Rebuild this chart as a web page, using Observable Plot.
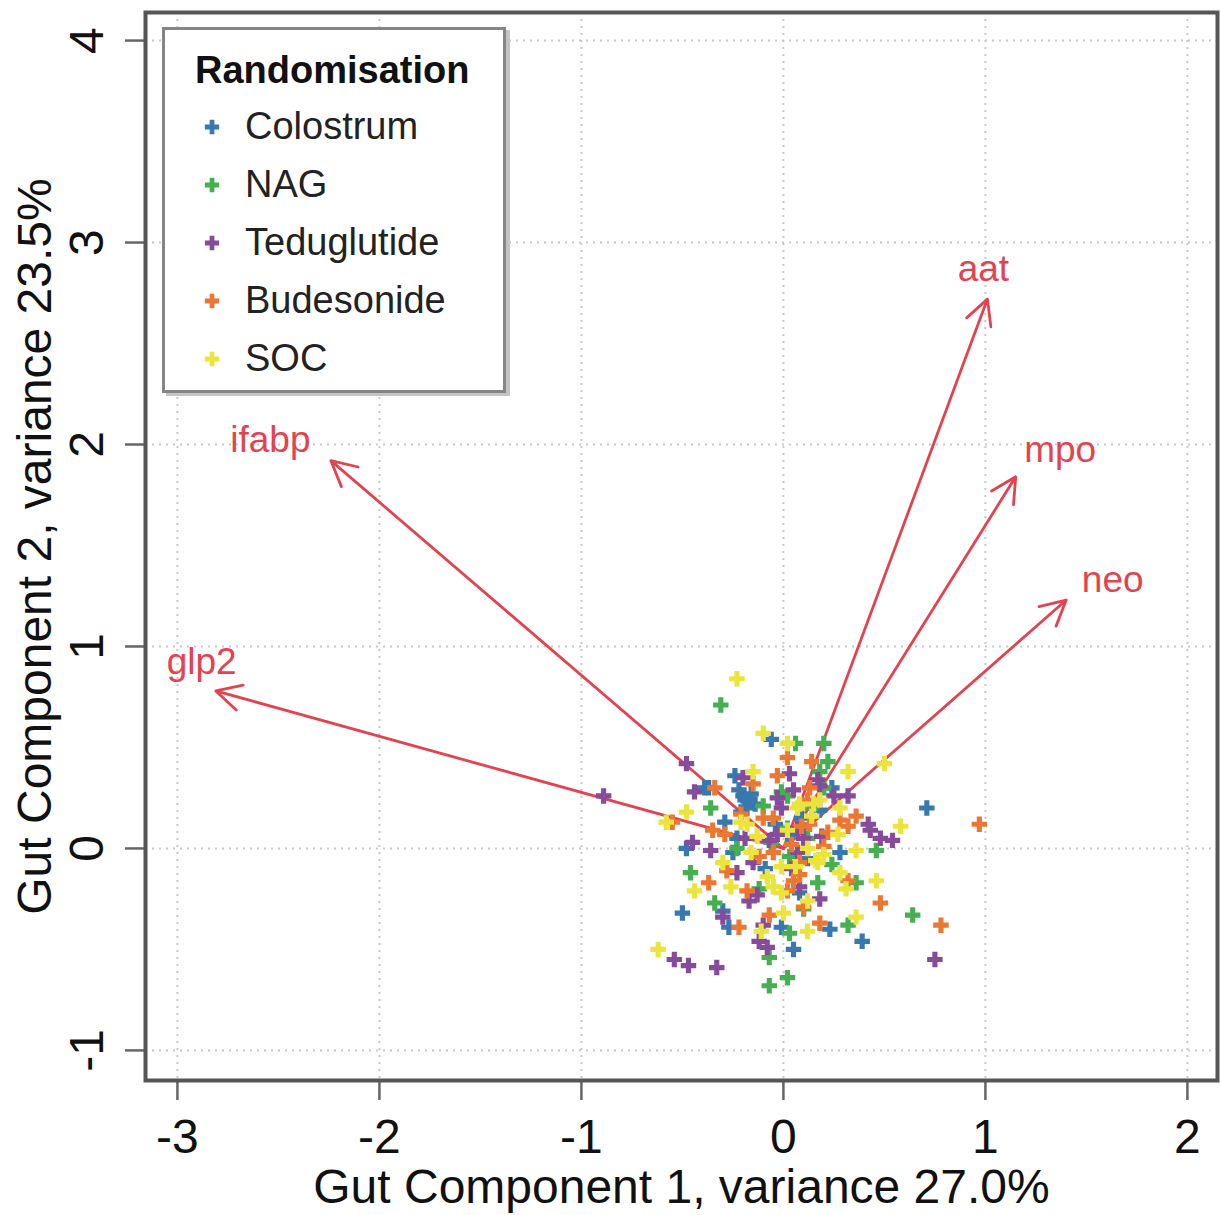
<!DOCTYPE html>
<html>
<head>
<meta charset="utf-8">
<script src="https://cdn.jsdelivr.net/npm/d3@7"></script>
<script src="https://cdn.jsdelivr.net/npm/@observablehq/plot@0.6"></script>
<style>
  body { margin: 0; background: #fff; }
  #wrap { position: relative; width: 1221px; height: 1215px; font-family: "Liberation Sans", Arial, Helvetica, sans-serif; }
  #legend { position: absolute; left: 162px; top: 27px; width: 344px; height: 366px; box-sizing: border-box;
            border: 3px solid #858585; box-shadow: 4px 3px 0 #c4c4c4; background: #fff; }
  #legend .t { position: absolute; left: 30px; top: 17px; font-size: 38px; font-weight: bold; line-height: 46px; color: #111; white-space: nowrap; }
  #legend .row { position: absolute; left: 0; height: 46px; line-height: 46px; font-size: 38px; color: #222; white-space: nowrap; }
  #legend .row svg { position: absolute; left: 38px; top: 15px; }
  #legend .row span { position: absolute; left: 80px; }
</style>
</head>
<body>
<div id="wrap"></div>
<script>
// ---- data ----
const groups = ["Colostrum", "NAG", "Teduglutide", "Budesonide", "SOC"];
const groupColors = ["#3778AF", "#46AF50", "#874B9B", "#EB7832", "#EBE43C"];

const colostrum = [[0.71,0.20],[0.39,-0.46],[-0.50,-0.32],[0.05,-0.50],[-0.37,0.30],[-0.06,0.54],[-0.24,0.36],[-0.20,0.26],[-0.19,0.24],[-0.21,0.18],[-0.18,0.20],[0.18,0.19],[-0.29,0.13],[0.24,0.30],[-0.48,0.00],[-0.23,0.05],[0.28,-0.02],[-0.30,-0.31],[-0.27,-0.39],[-0.01,-0.39],[0.23,-0.40],[-0.22,0.29],[0.09,0.15],[-0.25,-0.02],[0.08,-0.22],[-0.14,0.22],[0.02,0.07],[-0.09,-0.10],[-0.39,0.30],[-0.16,0.27],[0.12,-0.05],[-0.04,0.12]];
const nag = [[-0.31,0.71],[0.64,-0.33],[0.32,-0.38],[-0.07,-0.68],[0.02,-0.64],[-0.07,-0.54],[0.06,0.52],[0.20,0.52],[0.22,0.43],[0.18,0.38],[-0.01,0.28],[0.20,0.30],[-0.36,0.20],[-0.10,0.21],[0.46,-0.01],[0.36,-0.17],[0.17,-0.17],[-0.46,-0.12],[-0.34,-0.27],[0.03,-0.42],[0.03,-0.04],[0.02,0.26],[0.12,0.05],[-0.23,0.00],[0.02,0.10],[-0.12,-0.20],[0.10,-0.30],[0.14,0.20],[-0.06,0.03],[0.24,-0.08]];
const teduglutide = [[-0.89,0.26],[0.75,-0.55],[-0.54,-0.55],[-0.47,-0.58],[-0.33,-0.59],[-0.48,0.42],[-0.44,0.28],[-0.20,0.35],[0.03,0.37],[-0.03,0.25],[0.05,0.29],[0.18,0.31],[0.25,0.26],[-0.01,0.20],[0.17,0.34],[0.32,0.26],[0.42,0.12],[0.43,0.09],[0.48,0.05],[0.54,0.04],[0.18,-0.25],[-0.45,0.03],[-0.36,-0.01],[-0.23,-0.12],[-0.15,-0.07],[-0.17,-0.26],[-0.30,-0.34],[-0.10,-0.38],[-0.08,-0.49],[0.08,-0.19],[-0.03,0.07],[0.07,0.10],[0.07,-0.02],[-0.13,-0.23],[0.19,0.06],[0.10,0.05],[-0.12,-0.46],[-0.07,0.04],[0.04,-0.10],[-0.19,0.05]];
const budesonide = [[0.97,0.12],[0.78,-0.38],[0.48,-0.27],[-0.55,0.13],[-0.34,0.30],[0.02,0.45],[0.14,0.43],[-0.03,0.36],[0.13,0.30],[0.12,0.24],[0.36,0.16],[0.20,0.01],[0.32,-0.16],[0.18,-0.37],[-0.35,0.09],[-0.28,-0.11],[-0.05,-0.02],[-0.37,-0.17],[-0.18,-0.21],[-0.22,-0.39],[-0.07,-0.33],[0.05,-0.16],[0.10,-0.29],[0.08,-0.07],[0.13,0.12],[-0.29,0.07],[-0.15,0.32],[-0.10,0.15],[-0.05,0.15],[0.28,0.14],[0.32,0.11],[0.09,0.11],[0.08,-0.13],[0.02,-0.21],[-0.21,0.17],[0.04,0.02],[0.22,0.08],[-0.12,-0.04]];
const soc = [[-0.23,0.84],[0.50,0.42],[0.58,0.11],[0.46,-0.16],[0.36,-0.34],[-0.62,-0.50],[-0.58,0.13],[-0.48,0.18],[-0.10,0.57],[0.02,0.52],[-0.15,0.38],[0.18,0.24],[0.07,0.20],[0.32,0.38],[0.15,0.22],[0.28,0.20],[0.36,-0.01],[0.28,-0.12],[0.31,-0.20],[0.12,-0.41],[0.12,-0.26],[-0.30,-0.07],[-0.16,-0.02],[-0.08,-0.14],[-0.44,-0.21],[-0.26,-0.19],[-0.11,-0.41],[0.00,-0.32],[-0.01,-0.09],[-0.01,-0.22],[0.17,-0.07],[-0.18,0.12],[0.02,0.09],[0.12,0.00],[0.16,-0.06],[0.27,0.07],[-0.05,-0.19],[-0.21,0.13],[0.08,0.22],[0.20,-0.03],[0.06,-0.09],[-0.13,0.06],[0.14,0.16]];

const loadingNames = ["glp2", "ifabp", "aat", "mpo", "neo"];
const loadingX = [-2.81, -2.24, 1.01, 1.15, 1.40];
const loadingY = [0.78, 1.92, 2.72, 1.84, 1.23];
const labelX = [-2.88, -2.54, 0.99, 1.37, 1.63];
const labelY = [0.92, 2.02, 2.87, 1.97, 1.33];

const xTicks = [-3, -2, -1, 0, 1, 2];
const yTicks = [-1, 0, 1, 2, 3, 4];
const xTitle = "Gut Component 1, variance 27.0%";
const yTitle = "Gut Component 2, variance 23.5%";
const legendTitle = "Randomisation";

// ---- tables ----
const seriesValues = [colostrum, nag, teduglutide, budesonide, soc];
const points = groups.flatMap((g, i) => seriesValues[i].map(([x, y]) => ({x, y, group: g})));
const loadings = loadingNames.map((n, i) => ({name: n, x: loadingX[i], y: loadingY[i], lx: labelX[i], ly: labelY[i]}));

const FONT = '"Liberation Sans", Arial, Helvetica, sans-serif';
const RED = "#E3434F";

const chart = Plot.plot({
  width: 1221,
  height: 1215,
  marginLeft: 145,
  marginRight: 4,
  marginTop: 12,
  marginBottom: 135,
  style: {fontFamily: FONT, background: "#fff", overflow: "visible"},
  x: {domain: [-3.158, 2.149]},
  y: {domain: [-1.149, 4.139]},
  color: {domain: groups, range: groupColors},
  marks: [
    Plot.gridX(xTicks, {stroke: "#c8c8c8", strokeOpacity: 1, strokeWidth: 2, strokeDasharray: "2,5"}),
    Plot.gridY(yTicks, {stroke: "#c8c8c8", strokeOpacity: 1, strokeWidth: 2, strokeDasharray: "2,5"}),
    Plot.axisX({ticks: xTicks, tickSize: 20, tickPadding: 18, fontSize: 48, tickFormat: d => String(d),
                stroke: "#666", strokeWidth: 2.5, fill: "#111", label: null}),
    Plot.axisY({ticks: yTicks, tickSize: 20, tickFormat: () => "", stroke: "#666", strokeWidth: 2.5, label: null}),
    Plot.text(yTicks, {y: d => d, text: d => String(d), frameAnchor: "left", dx: -58, rotate: -90,
                       fontSize: 48, fill: "#111", textAnchor: "middle", lineAnchor: "middle"}),
    Plot.text([xTitle], {text: d => d, frameAnchor: "bottom", dy: 107, fontSize: 48, fill: "#111",
                         textAnchor: "middle", lineAnchor: "middle"}),
    Plot.text([yTitle], {text: d => d, frameAnchor: "left", dx: -110, rotate: -90, fontSize: 48, fill: "#111",
                         textAnchor: "middle", lineAnchor: "middle"}),
    Plot.arrow(loadings, {x1: () => 0, y1: () => 0, x2: "x", y2: "y", stroke: RED, strokeWidth: 2.8,
                          headLength: 15, headAngle: 55}),
    Plot.text(loadings, {x: "lx", y: "ly", text: "name", fill: RED, fontSize: 37, lineAnchor: "middle"}),
    Plot.dot(points, {x: "x", y: "y", fill: "group", symbol: "cross", r: 6.5, stroke: null}),
    Plot.frame({stroke: "#555", strokeWidth: 4})
  ]
});

const wrap = document.getElementById("wrap");
wrap.appendChild(chart);

// ---- legend ----
const legend = document.createElement("div");
legend.id = "legend";
const t = document.createElement("div");
t.className = "t";
t.textContent = legendTitle;
legend.appendChild(t);
groups.forEach((g, i) => {
  const row = document.createElement("div");
  row.className = "row";
  row.style.top = (73 + i * 58) + "px";
  const sym = d3.create("svg").attr("width", 18).attr("height", 18);
  sym.append("path").attr("transform", "translate(9,9)")
    .attr("d", d3.symbol(d3.symbolCross, Math.PI * 6 * 6)())
    .attr("fill", groupColors[i]);
  row.appendChild(sym.node());
  const s = document.createElement("span");
  s.textContent = g;
  row.appendChild(s);
  legend.appendChild(row);
});
wrap.appendChild(legend);
</script>
</body>
</html>
